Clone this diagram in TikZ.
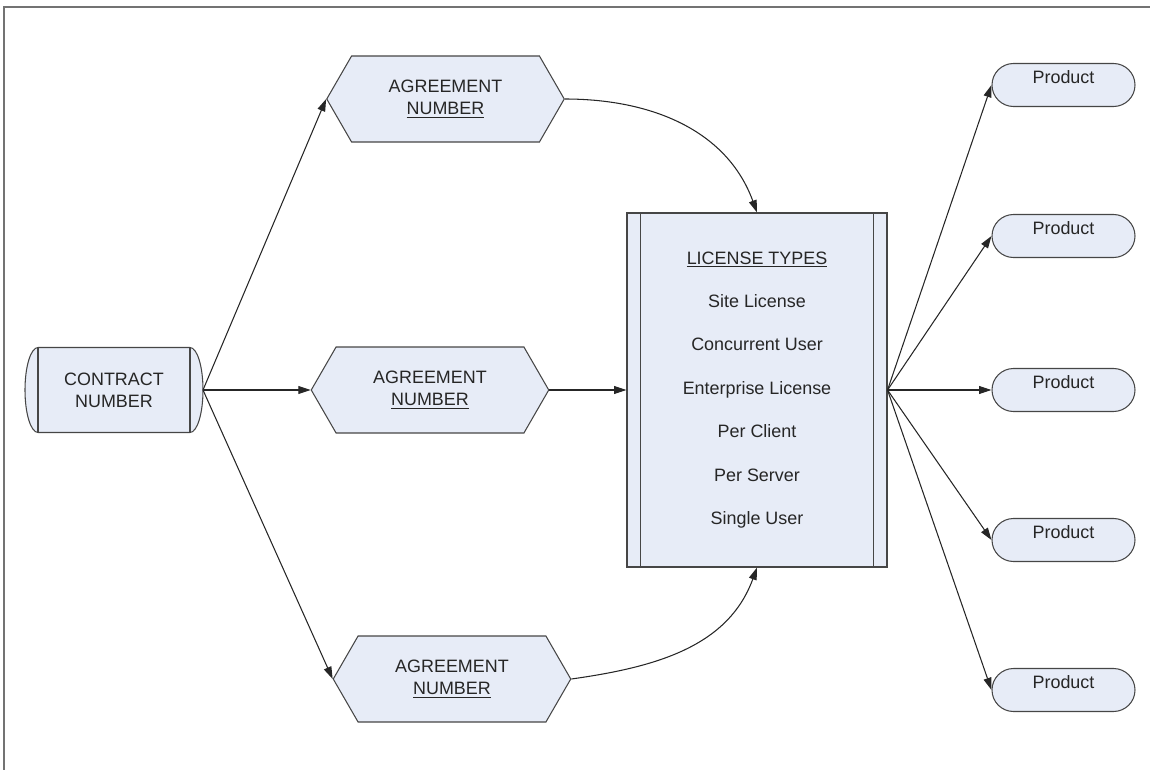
\documentclass[tikz,border=0pt]{standalone}
\usepackage{fontspec}
\setmainfont{Liberation Sans}
\usetikzlibrary{positioning, arrows.meta, shapes.symbols, calc, backgrounds}

\definecolor{boxfill}{RGB}{231,236,247}
\definecolor{boxline}{RGB}{70,70,70}

\begin{document}
\begin{tikzpicture}[
        font=\fontsize{10.2}{12.5}\selectfont,
        contract/.style={rectangle, outer sep=0pt, minimum width=3.56cm, minimum height=1.7cm, align=center, text=black!85},
        agree/.style={signal, signal to=east and west, signal pointer angle=120, draw=boxline, fill=boxfill, line width=0.6pt, minimum width=4.75cm, minimum height=1.72cm, align=center, text=black!85},
        license/.style={rectangle, draw=boxline, fill=boxfill, line width=0.6pt, minimum width=5.2cm, minimum height=7.08cm, align=center, text=black!85, font=\fontsize{10.2}{24.7}\selectfont},
        product/.style={rectangle, rounded corners=0.43cm, draw=boxline, fill=boxfill, line width=0.6pt, minimum width=2.86cm, minimum height=0.86cm, text height=0.25cm, text depth=0.32cm, text=black!85},
        edge/.style={draw=boxline, line width=0.6pt},
        arrow/.style={-{Triangle[length=7pt, width=4.5pt]}, line width=0.6pt, draw=black!85},
        frame/.style={draw=black!55, line width=1pt}
    ]

    \useasboundingbox (0,0) rectangle (23,15.4);
    \draw[frame] (23,15.26) -- (0.08,15.26) -- (0.08,0);

    % Nodes
    \node[contract] (contract) at (2.28,7.6) {CONTRACT\\NUMBER};
    \node[agree] (agr1) at (8.91,13.42) {AGREEMENT\\\underline{NUMBER}};
    \node[agree] (agr2) at (8.6,7.6) {AGREEMENT\\\underline{NUMBER}};
    \node[agree] (agr3) at (9.04,1.82) {AGREEMENT\\\underline{NUMBER}};
    \node[license] (lic) at (15.14,7.6) {\underline{LICENSE TYPES}\\Site License\\Concurrent User\\Enterprise License\\Per Client\\Per Server\\Single User};

    \node[product] (prod1) at (21.27,13.7) {Product};
    \node[product] (prod2) at (21.27,10.68) {Product};
    \node[product] (prod3) at (21.27,7.6) {Product};
    \node[product] (prod4) at (21.27,4.6) {Product};
    \node[product] (prod5) at (21.27,1.6) {Product};

    % Contract outline with curved ends
    \begin{scope}[on background layer]
        \draw[edge, fill=boxfill] ($(contract.north west)+(0.26,0)$) -- ($(contract.north east)-(0.26,0)$)
            arc[start angle=90, end angle=-90, x radius=0.26cm, y radius=0.85cm]
            -- ($(contract.south west)+(0.26,0)$)
            arc[start angle=270, end angle=90, x radius=0.26cm, y radius=0.85cm] -- cycle;
    \end{scope}
    \draw[edge] ($(contract.north west)+(0.26,0)$) -- ($(contract.south west)+(0.26,0)$);
    \draw[edge] ($(contract.north east)-(0.26,0)$) -- ($(contract.south east)-(0.26,0)$);

    % Side bars of license box
    \draw[edge] ($(lic.north west)+(0.28,0)$) -- ($(lic.south west)+(0.28,0)$);
    \draw[edge] ($(lic.north east)-(0.28,0)$) -- ($(lic.south east)-(0.28,0)$);

    % Arrows
    \draw[arrow] (contract.east) -- (agr1.west);
    \draw[arrow] (contract.east) -- (agr2.west);
    \draw[arrow] (contract.east) -- (agr3.west);

    \draw[arrow] (agr1.east) to[out=0, in=110] (lic.north);
    \draw[arrow] (agr2.east) -- (lic.west);
    \draw[arrow] (agr3.east) to[out=8, in=-110] (lic.south);

    \draw[arrow] (lic.east) -- (prod1.west);
    \draw[arrow] (lic.east) -- (prod2.west);
    \draw[arrow] (lic.east) -- (prod3.west);
    \draw[arrow] (lic.east) -- (prod4.west);
    \draw[arrow] (lic.east) -- (prod5.west);

\end{tikzpicture}
\end{document}
